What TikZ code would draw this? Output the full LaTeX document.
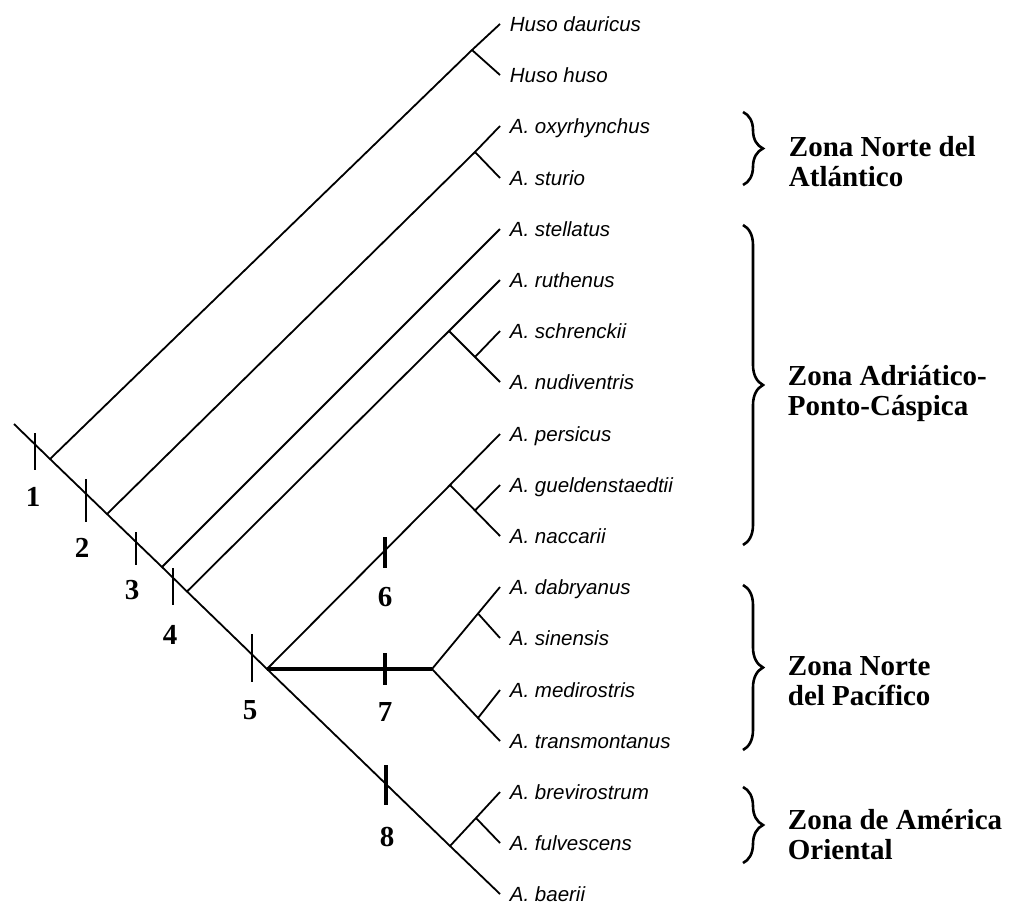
\documentclass[tikz,border=0pt]{standalone}
\usepackage{fontspec}
\setmainfont{Liberation Serif}
\setsansfont{Liberation Sans}
\usetikzlibrary{decorations.pathreplacing}

\begin{document}
\begin{tikzpicture}[x=1pt, y=-1pt, line width=1.8pt,
        every node/.append style={font=\fontsize{29}{30}\selectfont\bfseries}]
      \tikzstyle{taxon} = [font=\fontsize{20.5}{24}\selectfont\sffamily\itshape, anchor=west,
        inner xsep=9pt, inner ysep=0pt, text height=14.7pt, text depth=0pt]
      \tikzstyle{zone} = [align=left, anchor=north west, inner sep=0pt]
      \tikzstyle{cut} = [line width=1.8pt]
      \tikzstyle{boldcut} = [line width=4pt]
      \tikzstyle{zonebrace} = [decorate, decoration={brace, amplitude=20pt}, line width=2.6pt]
      \useasboundingbox (0,0) rectangle (1010,911);

      \node[taxon] (dauricus) at (500,24) {Huso dauricus};
      \node[taxon] (huso) at (500,75) {Huso huso};
      \node[taxon] (oxyrhynchus) at (500,126) {A. oxyrhynchus};
      \node[taxon] (sturio) at (500,178) {A. sturio};
      \node[taxon] (stellatus) at (500,229) {A. stellatus};
      \node[taxon] (ruthenus) at (500,280) {A. ruthenus};
      \node[taxon] (schrenckii) at (500,331) {A. schrenckii};
      \node[taxon] (nudiventris) at (500,382) {A. nudiventris};
      \node[taxon] (persicus) at (500,434) {A. persicus};
      \node[taxon] (gueldenstaedtii) at (500,485) {A. gueldenstaedtii};
      \node[taxon] (naccarii) at (500,536) {A. naccarii};
      \node[taxon] (dabryanus) at (500,587) {A. dabryanus};
      \node[taxon] (sinensis) at (500,638) {A. sinensis};
      \node[taxon] (medirostris) at (500,690) {A. medirostris};
      \node[taxon] (transmontanus) at (500,741) {A. transmontanus};
      \node[taxon] (brevirostrum) at (500,792) {A. brevirostrum};
      \node[taxon] (fulvescens) at (500,843) {A. fulvescens};
      \node[taxon] (baerii) at (500,894) {A. baerii};

      \coordinate (root) at (14,424);
      \coordinate (n1) at (50,459);
      \coordinate (n2) at (107,514);
      \coordinate (n3) at (162,567);
      \coordinate (n4) at (187,591.5);
      \coordinate (n5) at (267,669);
      \coordinate (n7) at (432,669);
      \coordinate (n8) at (450,846);
      \coordinate (hus) at (472,50);
      \coordinate (oxy) at (475,152);
      \coordinate (rut) at (449,331);
      \coordinate (sch) at (475,357);
      \coordinate (per) at (450,485);
      \coordinate (gue) at (475,510.5);
      \coordinate (dab) at (478,613.5);
      \coordinate (med) at (478,718);
      \coordinate (bre) at (476,818);

      \draw (root) -- (n1) -- (n2) -- (n3) -- (n4) -- (n5) -- (n8) -- (baerii.west);
      \draw (n1) -- (hus) -- (dauricus.west);
      \draw (hus) -- (huso.west);
      \draw (n2) -- (oxy) -- (oxyrhynchus.west);
      \draw (oxy) -- (sturio.west);
      \draw (n3) -- (stellatus.west);
      \draw (n4) -- (rut) -- (ruthenus.west);
      \draw (rut) -- (sch) -- (nudiventris.west);
      \draw (sch) -- (schrenckii.west);
      \draw (n5) -- (per) -- (persicus.west);
      \draw (per) -- (gue) -- (naccarii.west);
      \draw (gue) -- (gueldenstaedtii.west);
      \draw[boldcut] (n5) -- (n7);
      \draw (n7) -- (dab) -- (dabryanus.west);
      \draw (dab) -- (sinensis.west);
      \draw (n7) -- (med) -- (transmontanus.west);
      \draw (med) -- (medirostris.west);
      \draw (n8) -- (bre) -- (brevirostrum.west);
      \draw (bre) -- (fulvescens.west);

      \draw[cut] (35,433) -- (35,470);
      \draw[cut] (86,479) -- (86,522);
      \draw[cut] (136,532) -- (136,565);
      \draw[cut] (173,568) -- (173,605);
      \draw[cut] (252,634) -- (252,682);
      \draw[boldcut] (385,537) -- (385,568);
      \draw[boldcut] (385,653) -- (385,685);
      \draw[boldcut] (386,765) -- (386,805);

      \node (l1) at (33,497) {1};
      \node (l2) at (82,548) {2};
      \node (l3) at (132,590) {3};
      \node (l4) at (170,635) {4};
      \node (l5) at (250,710) {5};
      \node (l6) at (385,597) {6};
      \node (l7) at (385,712) {7};
      \node (l8) at (387,837) {8};

      \draw[zonebrace] (743,112) -- (743,185);
      \draw[zonebrace] (743,225) -- (743,545);
      \draw[zonebrace] (743,585) -- (743,750);
      \draw[zonebrace] (743,787) -- (743,863);
      \node[zone] (atlantico) at (788,135) {Zona Norte del\\Atlántico};
      \node[zone] (ponto) at (787,364) {Zona Adriático-\\Ponto-Cáspica};
      \node[zone] (pacifico) at (787,656) {Zona Norte\\del Pacífico};
      \node[zone] (america) at (787,808) {Zona de América\\Oriental};
\end{tikzpicture}
\end{document}
